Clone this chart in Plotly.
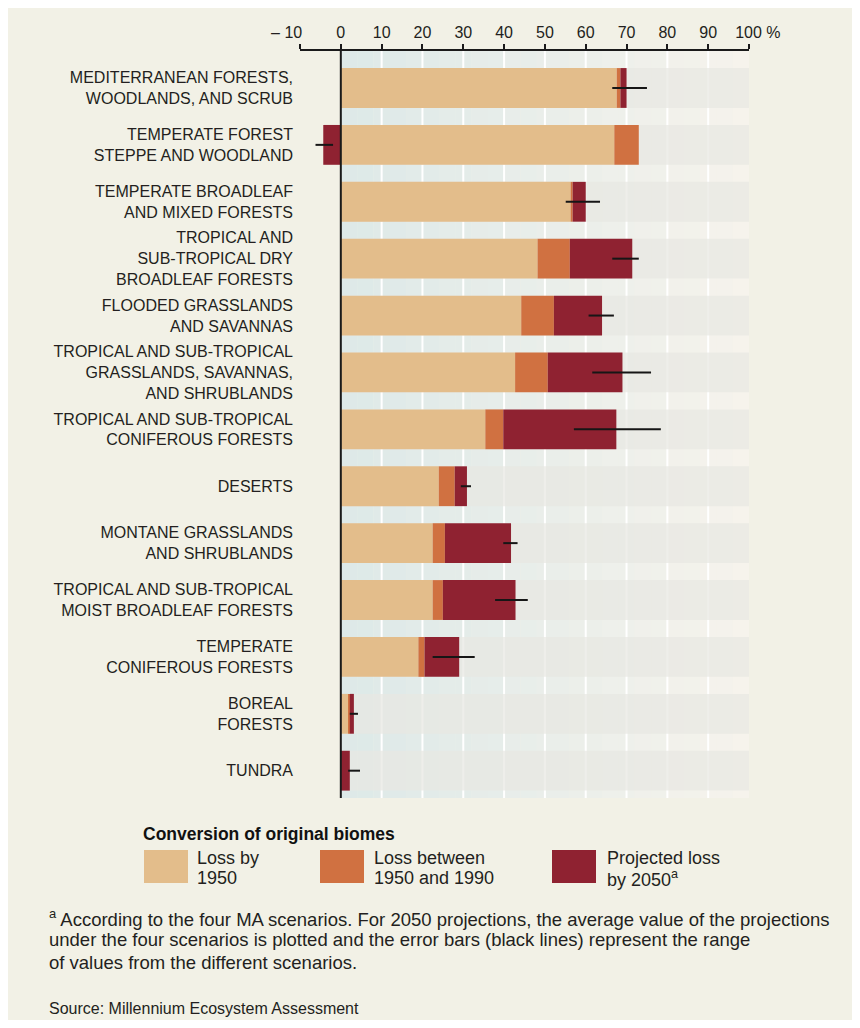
import plotly.graph_objects as go

# ---------------- data ----------------
biomes = [
    "MEDITERRANEAN FORESTS,<br>WOODLANDS, AND SCRUB",
    "TEMPERATE FOREST<br>STEPPE AND WOODLAND",
    "TEMPERATE BROADLEAF<br>AND MIXED FORESTS",
    "TROPICAL AND<br>SUB-TROPICAL DRY<br>BROADLEAF FORESTS",
    "FLOODED GRASSLANDS<br>AND SAVANNAS",
    "TROPICAL AND SUB-TROPICAL<br>GRASSLANDS, SAVANNAS,<br>AND SHRUBLANDS",
    "TROPICAL AND SUB-TROPICAL<br>CONIFEROUS FORESTS",
    "DESERTS",
    "MONTANE GRASSLANDS<br>AND SHRUBLANDS",
    "TROPICAL AND SUB-TROPICAL<br>MOIST BROADLEAF FORESTS",
    "TEMPERATE<br>CONIFEROUS FORESTS",
    "BOREAL<br>FORESTS",
    "TUNDRA",
]
loss_by_1950 = [67.6, 67.0, 56.3, 48.2, 44.2, 42.7, 35.4, 24.0, 22.5, 22.5, 19.0, 1.8, 0.0]
loss_1950_1990 = [0.9, 6.0, 0.5, 7.9, 8.0, 8.0, 4.4, 3.9, 3.0, 2.5, 1.5, 0.4, 0.0]
projected_2050 = [1.5, -4.3, 3.2, 15.3, 11.8, 18.3, 27.7, 3.0, 16.2, 17.8, 8.5, 1.0, 2.2]
range_low = [66.5, -6.2, 55.1, 66.5, 60.7, 61.6, 57.1, 29.4, 39.8, 37.8, 22.5, 2.2, 1.8]
range_high = [75.0, -1.9, 63.5, 73.0, 66.9, 76.0, 78.4, 31.9, 43.3, 45.8, 32.8, 4.2, 4.7]

NB = "\u00a0"
tick_vals = [-10, 0, 10, 20, 30, 40, 50, 60, 70, 80, 90, 100]
tick_text = ["–" + NB + "10" + NB * 6, "0", "10", "20", "30", "40",
             "50", "60", "70", "80", "90", NB * 4 + "100" + NB + "%"]

series_names = ["Loss by 1950", "Loss between 1950 and 1990", "Projected loss by 2050"]
legend_lines = [["Loss by", "1950"], ["Loss between", "1950 and 1990"],
                ["Projected loss", "by 2050<sup>a</sup>"]]
colors = ["#e3bd8b", "#d07141", "#8f2231"]

footnote = ["<sup>a</sup> According to the four MA scenarios. For 2050 projections, the average value of the projections",
            "under the four scenarios is plotted and the error bars (black lines) represent the range",
            "of values from the different scenarios."]
source = "Source: Millennium Ecosystem Assessment"
legend_title = "Conversion of original biomes"

# ---------------- geometry (page pixels; page has an 8px body margin) ----------------
OFF = 8
W, H = 844, 1012
ML = 300 - OFF
MT = 51 - OFF
PW = 749 - 300
PH = 798 - 51
MR = W - ML - PW
MB = H - MT - PH
FONT = "Liberation Sans, Arial, sans-serif"
TXT = "#231f20"
BG = "#f2f1e6"


def fx(px):
    return (px - OFF - ML) / PW


def fy(py):
    return 1 - (py - OFF - MT) / PH


fig = go.Figure()
for vals, name, col in zip([loss_by_1950, loss_1950_1990, projected_2050], series_names, colors):
    fig.add_trace(go.Bar(y=biomes, x=vals, orientation="h", name=name,
                         marker=dict(color=col, line=dict(width=0)), showlegend=False))

ex, ey = [], []
for b, lo, hi in zip(biomes, range_low, range_high):
    ex += [lo, hi, None]
    ey += [b, b, None]
fig.add_trace(go.Scatter(x=ex, y=ey, mode="lines", line=dict(color="#161616", width=2),
                         hoverinfo="skip", showlegend=False))

shapes = []
# horizontal gradient background of the plot area
left_c = (221, 233, 232)
right_c = (246, 243, 236)
ncol = 25
for k in range(ncol):
    t = (k + 0.5) / ncol
    c = tuple(round(left_c[j] + (right_c[j] - left_c[j]) * t) for j in range(3))
    shapes.append(dict(type="rect", xref="x", yref="paper", x0=100 * k / ncol,
                       x1=min(100, 100 * (k + 1) / ncol + 0.05), y0=0, y1=1,
                       fillcolor="rgb(%d,%d,%d)" % c, line=dict(width=0), layer="below"))
# white gridlines
for v in range(10, 100, 10):
    shapes.append(dict(type="line", xref="x", yref="paper", x0=v, x1=v, y0=0, y1=1,
                       line=dict(color="white", width=2), layer="below"))
# row bands
for i in range(len(biomes)):
    shapes.append(dict(type="rect", xref="x", yref="y", x0=0, x1=100, y0=i - 0.35, y1=i + 0.35,
                       fillcolor="rgba(231,232,226,0.72)", line=dict(width=0), layer="below"))
# zero line
shapes.append(dict(type="line", xref="x", yref="paper", x0=0, x1=0, y0=0, y1=1,
                   line=dict(color="#1a1a1a", width=2), layer="above"))

# legend swatches
sw_x = [144, 320, 552]
for x0, col in zip(sw_x, colors):
    shapes.append(dict(type="rect", xref="paper", yref="paper", x0=fx(x0), x1=fx(x0 + 44),
                       y0=fy(883), y1=fy(850), fillcolor=col, line=dict(width=0)))

ann = []
ann.append(dict(text="<b>" + legend_title + "</b>", xref="paper", yref="paper", x=fx(141),
                y=fy(834), xanchor="left", yanchor="middle", showarrow=False,
                font=dict(family=FONT, size=17.5, color="#111")))
lab_x = [195, 372, 605]
for x0, lines in zip(lab_x, legend_lines):
    for j, line in enumerate(lines):
        ann.append(dict(text=line, xref="paper", yref="paper", x=fx(x0), y=fy(858 + 20 * j),
                        xanchor="left", yanchor="middle", showarrow=False,
                        font=dict(family=FONT, size=18, color=TXT)))
for j, line in enumerate(footnote):
    ann.append(dict(text=line, xref="paper", yref="paper", x=fx(47), y=fy(918 + 22 * j),
                    xanchor="left", yanchor="middle", showarrow=False,
                    font=dict(family=FONT, size=18.5, color=TXT)))
ann.append(dict(text=source, xref="paper", yref="paper", x=fx(47), y=fy(1008), xanchor="left",
                yanchor="middle", showarrow=False, font=dict(family=FONT, size=16, color=TXT)))

fig.update_layout(
    width=W, height=H,
    margin=dict(l=ML, r=MR, t=MT, b=MB, pad=0, autoexpand=False),
    paper_bgcolor=BG, plot_bgcolor="rgba(0,0,0,0)",
    barmode="relative", bargap=0.3,
    shapes=shapes, annotations=ann,
    xaxis=dict(side="top", range=[-10, 100], tickvals=tick_vals, ticktext=tick_text,
               tickangle=0, automargin=False,
               showgrid=False, zeroline=False, showline=True, linecolor="#1a1a1a",
               linewidth=1.5, ticks="outside", ticklen=5, tickwidth=1.5, tickcolor="#1a1a1a",
               tickfont=dict(family=FONT, size=16, color=TXT), fixedrange=True),
    yaxis=dict(type="category", categoryorder="array", categoryarray=biomes,
               range=[12.48, -0.65], showgrid=False, zeroline=False, showline=False,
               ticks="", ticklabelstandoff=6, automargin=False,
               tickfont=dict(family=FONT, size=16, color=TXT), fixedrange=True),
    font=dict(family=FONT, color=TXT),
)

fig.write_html("out.html")
